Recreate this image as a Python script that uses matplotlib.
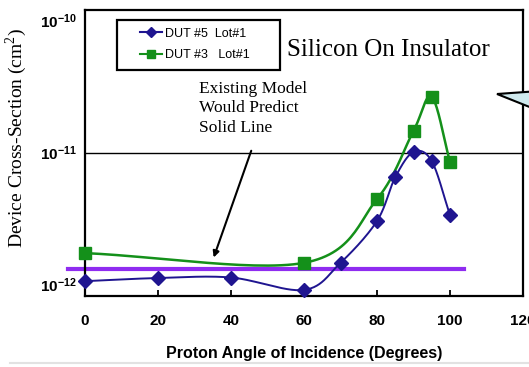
import numpy as np
import matplotlib.pyplot as plt
from matplotlib.patches import Polygon, Rectangle
from matplotlib.lines import Line2D

# data
angle_5 = [0, 20, 40, 60, 70, 80, 85, 90, 95, 100]
sigma_5 = [1.06e-12, 1.12e-12, 1.13e-12, 9.1e-13, 1.46e-12, 3.03e-12, 6.5e-12, 1.01e-11, 8.6e-12, 3.36e-12]
angle_3 = [0, 60, 80, 90, 95, 100]
sigma_3 = [1.73e-12, 1.46e-12, 4.44e-12, 1.46e-11, 2.63e-11, 8.5e-12]
model_x = [-4.7, 103.8]
model_y = 1.31e-12
xticks = [0, 20, 40, 60, 80, 100, 120]
yticks = [1e-12, 1e-11, 1e-10]
ytick_labels = [r'$\mathbf{10^{-12}}$', r'$\mathbf{10^{-11}}$', r'$\mathbf{10^{-10}}$']

blue = '#1f1590'
green = '#14901a'
purple = '#8f2cf0'

plt.rcParams['mathtext.fontset'] = 'custom'
plt.rcParams['mathtext.bf'] = 'Liberation Sans:bold'
plt.rcParams['mathtext.rm'] = 'Liberation Serif'


# smooth curve through points (catmull-rom), in log space
def smooth(xs, ys, n=30):
    x = np.array(xs, float)
    y = np.log10(np.array(ys, float))
    px = np.concatenate([[2 * x[0] - x[1]], x, [2 * x[-1] - x[-2]]])
    py = np.concatenate([[2 * y[0] - y[1]], y, [2 * y[-1] - y[-2]]])
    ox, oy = [], []
    t = np.linspace(0, 1, n)
    for i in range(1, len(px) - 2):
        for p, o in ((px, ox), (py, oy)):
            p0, p1, p2, p3 = p[i - 1], p[i], p[i + 1], p[i + 2]
            o.extend(0.5 * (2 * p1 + (-p0 + p2) * t + (2 * p0 - 5 * p1 + 4 * p2 - p3) * t ** 2
                            + (-p0 + 3 * p1 - 3 * p2 + p3) * t ** 3))
    return np.array(ox), 10 ** np.array(oy)


fig = plt.figure(figsize=(5.29, 3.67), dpi=100)
ax = fig.add_axes([85 / 529, 71 / 367, 438 / 529, 286 / 367])

ax.set_yscale('log')
ax.set_xlim(0, 120)
ax.set_ylim(10 ** -12.087, 10 ** -9.92)

ax.axhline(1e-11, color='black', lw=1, zorder=1)

ax.plot(model_x, [model_y, model_y], color=purple, lw=3, clip_on=False, zorder=2)

sx, sy = smooth(angle_3, sigma_3)
ax.plot(sx, sy, color=green, lw=1.8, zorder=3)
ax.plot(angle_3, sigma_3, 's', color=green, ms=8, clip_on=False, zorder=4)

sx, sy = smooth(angle_5, sigma_5)
ax.plot(sx, sy, color=blue, lw=1.4, zorder=5)
ax.plot(angle_5, sigma_5, 'D', color=blue, ms=7, clip_on=False, zorder=6)

for s in ax.spines.values():
    s.set_linewidth(1.6)

ax.set_xticks(xticks)
ax.set_xticklabels([str(v) for v in xticks], fontfamily='Liberation Sans', fontweight='bold', fontsize=11)
ax.set_yticks(yticks)
ax.set_yticklabels(ytick_labels, fontsize=11)
ax.minorticks_off()
ax.tick_params(axis='x', direction='in', length=4, width=1.3, pad=13)
ax.tick_params(axis='y', length=0, pad=6)

ax.set_xlabel('Proton Angle of Incidence (Degrees)', fontfamily='Liberation Sans',
              fontweight='bold', fontsize=11.5, labelpad=13)
ax.set_ylabel(r'Device Cross-Section (cm$^2$)', fontfamily='Liberation Serif', fontsize=14)
ax.yaxis.set_label_coords(-0.128, 0.552)

ax.text(55.3, 5.98e-11, 'Silicon On Insulator', fontfamily='Liberation Serif',
        fontsize=18, va='center', ha='left')
ax.text(31.2, 3.5e-11, 'Existing Model\nWould Predict\nSolid Line', fontfamily='Liberation Serif',
        fontsize=12.5, va='top', ha='left', linespacing=1.3)
ax.annotate('', xy=(35, 1.53e-12), xytext=(45.8, 1.08e-11),
            arrowprops=dict(arrowstyle='-|>', color='black', lw=1.5, mutation_scale=9))

handles = [Line2D([], [], color=blue, marker='D', ms=5, lw=1.5),
           Line2D([], [], color=green, marker='s', ms=6, lw=1.5)]
leg = ax.legend(handles, ['DUT #5  Lot#1', 'DUT #3   Lot#1'], loc='upper left',
                bbox_to_anchor=(0.115, 0.955), borderaxespad=0, frameon=False,
                prop={'family': 'Liberation Sans', 'size': 9}, handlelength=1.7,
                handletextpad=0.3, labelspacing=0.75)
ax.add_patch(Rectangle((32 / 438, (296 - 70) / 286), 163 / 438, 50 / 286, transform=ax.transAxes,
                       fill=False, edgecolor='black', lw=1.6, clip_on=False, zorder=7))

callout = Polygon([(497 / 529, 1 - 94 / 367), (1.02, 1 - 91 / 367), (1.02, 1 - 111 / 367)],
                  closed=True, transform=fig.transFigure, facecolor='#d0eaee',
                  edgecolor='black', lw=1.5, zorder=10)
fig.patches.append(callout)

# faint line along the bottom of the image
fig.lines.append(Line2D([10 / 529, 1], [4 / 367, 4 / 367], transform=fig.transFigure,
                        color='#e2e2e2', lw=1.5))

fig.savefig('out.png', dpi=100)
